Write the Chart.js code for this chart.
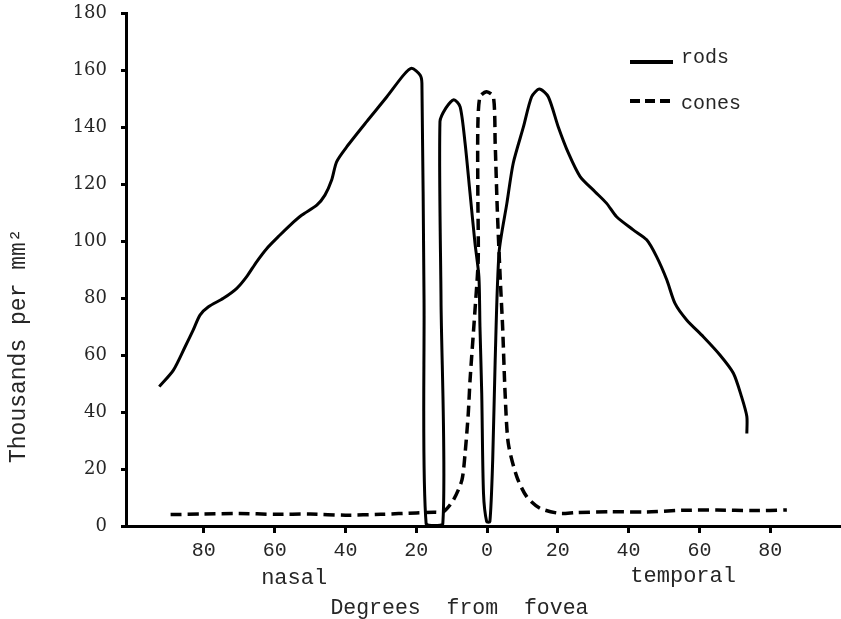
<!DOCTYPE html>
<html>
<head>
<meta charset="utf-8">
<script src="https://cdn.jsdelivr.net/npm/chart.js@4.4.1/dist/chart.umd.min.js"></script>
<style>
  html, body { margin: 0; padding: 0; background: #fff; }
  #wrap { width: 841px; height: 619px; position: relative; }
</style>
</head>
<body>
<div id="wrap"><canvas id="c"></canvas></div>
<script>
// ---- data (degrees from fovea: nasal negative, temporal positive; thousands per mm²) ----
const seriesNames = ['rods', 'cones'];

const rodsX = [-92.6, -88.6, -85.3, -83.0, -81.1, -78.7, -74.5, -70.7, -67.9, -65.1, -62.2, -58.5, -55.6,
  -52.3, -48.1, -45.8, -43.9, -42.5, -39.6, -34.0, -28.3, -23.6, -21.3, -18.9, -18.4, -17.8, -17.2,
  -12.5, -13.0, -13.3, -11.6, -9.4, -7.6, -6.2, -4.8, -3.4, -2.3, -2.0, -1.5, -1.0, -0.1,
  0.8, 1.6, 2.3, 3.4, 5.6, 7.4, 10.3, 12.6, 14.8, 17.3, 20.1, 23.0, 26.3, 30.5, 33.8, 36.6,
  41.3, 45.1, 47.9, 50.8, 53.1, 56.4, 61.1, 65.8, 69.6, 71.9, 73.4, 73.4];
const rodsY = [48.9, 54.7, 62.9, 68.8, 74.0, 76.9, 79.9, 83.4, 87.5, 92.7, 97.4, 102.1, 105.6,
  109.1, 112.6, 116.1, 121.4, 127.8, 133.1, 141.9, 150.6, 158.2, 160.6, 158.2, 155.3, 79.3, 0.7,
  0.7, 79.3, 141.9, 146.7, 149.6, 147.1, 134.3, 116.7, 99.2, 87.5, 69.9, 46.6, 11.5, 1.5,
  1.5, 23.2, 58.2, 96.0, 113.2, 127.3, 140.1, 150.6, 153.3, 150.6, 140.1, 130.8, 122.6, 117.3, 113.2, 108.5,
  103.9, 100.4, 94.5, 86.3, 78.1, 72.3, 66.4, 60.0, 53.6, 45.4, 38.4, 32.5];

const conesX = [-89.4, -80, -70, -60, -50, -40, -30, -20, -15, -12.3, -9.5, -7.1, -6.2, -5.3, -4.8,
  -3.4, -2.5, -2.6, -2.6, -2.0, -0.1, 1.8, 2.3, 2.9, 3.7, 4.4, 5.1, 6.0, 8.4, 11.2, 15.0, 20.6,
  25, 35, 45, 55, 65, 75, 84.7];
const conesY = [4.0, 4.2, 4.4, 4.1, 4.2, 3.8, 4.1, 4.6, 4.8, 5.0, 9.1, 16.1, 25.5, 39.5, 51.2,
  75.8, 93.3, 116.7, 140.1, 150.6, 152.4, 150.6, 134.3, 110.9, 87.5, 69.9, 46.6, 29.0, 17.3, 10.3, 6.2, 4.4,
  4.7, 5.0, 4.9, 5.5, 5.6, 5.4, 5.6];

const xTickValues = [-80, -60, -40, -20, 0, 20, 40, 60, 80];
const yTickStep = 20;
const xMin = -102, xMax = 100, yMin = 0, yMax = 180;

const yTitle = 'Thousands per mm²';
const xTitle = 'Degrees  from  fovea';
const sideLabels = ['nasal', 'temporal'];
const sideLabelPos = [-54.5, 55.4];
const xTitlePos = -7.8;

// ---- build ----
const toPts = (xs, ys) => xs.map((v, i) => ({ x: v, y: ys[i] }));
const INK = '#000';
const TEXT = '#262626';
const MONO = '"Liberation Mono", "DejaVu Sans Mono", monospace';

const annotPlugin = {
  id: 'annot',
  afterDraw(chart) {
    const { ctx, chartArea, scales: { x } } = chart;
    ctx.save();
    ctx.fillStyle = TEXT;
    // side labels + x title
    ctx.font = '22px ' + MONO;
    ctx.textAlign = 'center';
    ctx.textBaseline = 'alphabetic';
    ctx.fillText(sideLabels[0], x.getPixelForValue(sideLabelPos[0]), chartArea.bottom + 58);
    ctx.fillText(sideLabels[1], x.getPixelForValue(sideLabelPos[1]), chartArea.bottom + 56);
    ctx.font = '21.5px ' + MONO;
    ctx.fillText(xTitle, x.getPixelForValue(xTitlePos), chartArea.bottom + 88);
    // y title
    ctx.save();
    ctx.translate(25, chartArea.bottom - 63);
    ctx.rotate(-Math.PI / 2);
    ctx.font = '23px ' + MONO;
    ctx.textAlign = 'left';
    ctx.fillText(yTitle, 0, 0);
    ctx.restore();
    // legend
    const lx = chartArea.right - 211, ly = [chartArea.top + 49, chartArea.top + 88];
    chart.data.datasets.forEach((ds, i) => {
      ctx.save();
      ctx.strokeStyle = ds.borderColor;
      ctx.lineWidth = 4;
      ctx.setLineDash(i === 0 ? [] : [10, 5]);
      ctx.beginPath();
      ctx.moveTo(lx, ly[i]);
      ctx.lineTo(lx + 43, ly[i]);
      ctx.stroke();
      ctx.restore();
      ctx.font = '20px ' + MONO;
      ctx.textAlign = 'left';
      ctx.textBaseline = 'alphabetic';
      ctx.fillText(ds.label, lx + 51, ly[i] + (i === 0 ? 1 : 8));
    });
    ctx.restore();
  }
};

new Chart(document.getElementById('c'), {
  type: 'line',
  data: {
    datasets: [
      {
        label: seriesNames[0],
        data: toPts(rodsX, rodsY),
        borderColor: INK,
        borderWidth: 3,
        pointRadius: 0,
        tension: 0.25,
        fill: false
      },
      {
        label: seriesNames[1],
        data: toPts(conesX, conesY),
        borderColor: INK,
        borderWidth: 3.5,
        borderDash: [11, 6],
        pointRadius: 0,
        tension: 0.25,
        fill: false
      }
    ]
  },
  options: {
    responsive: true,
    maintainAspectRatio: false,
    devicePixelRatio: 1,
    animation: false,
    layout: { autoPadding: false, padding: { top: 13, right: 0, bottom: 0, left: 0 } },
    plugins: {
      legend: { display: false },
      tooltip: { enabled: false }
    },
    scales: {
      x: {
        type: 'linear',
        min: xMin,
        max: xMax,
        afterBuildTicks: (scale) => { scale.ticks = xTickValues.map(v => ({ value: v })); },
        afterFit: (scale) => { scale.height = 93; scale.paddingLeft = 0; scale.paddingRight = 0; },
        border: { display: true, color: INK, width: 3 },
        grid: { drawOnChartArea: false, drawTicks: true, tickLength: 7, tickWidth: 3, color: INK },
        ticks: {
          callback: (v) => String(Math.abs(v)),
          color: TEXT,
          font: { family: MONO, size: 20 },
          padding: 6,
          maxRotation: 0,
          autoSkip: false
        }
      },
      y: {
        type: 'linear',
        min: yMin,
        max: yMax,
        afterFit: (scale) => { scale.width = 126; scale.paddingTop = 0; scale.paddingBottom = 0; },
        border: { display: true, color: INK, width: 3 },
        grid: { drawOnChartArea: false, drawTicks: true, tickLength: 5, tickWidth: 3, color: INK },
        ticks: {
          stepSize: yTickStep,
          color: TEXT,
          font: { family: '"DejaVu Serif", serif', size: 18 },
          padding: 14
        }
      }
    }
  },
  plugins: [annotPlugin]
});
</script>
</body>
</html>
